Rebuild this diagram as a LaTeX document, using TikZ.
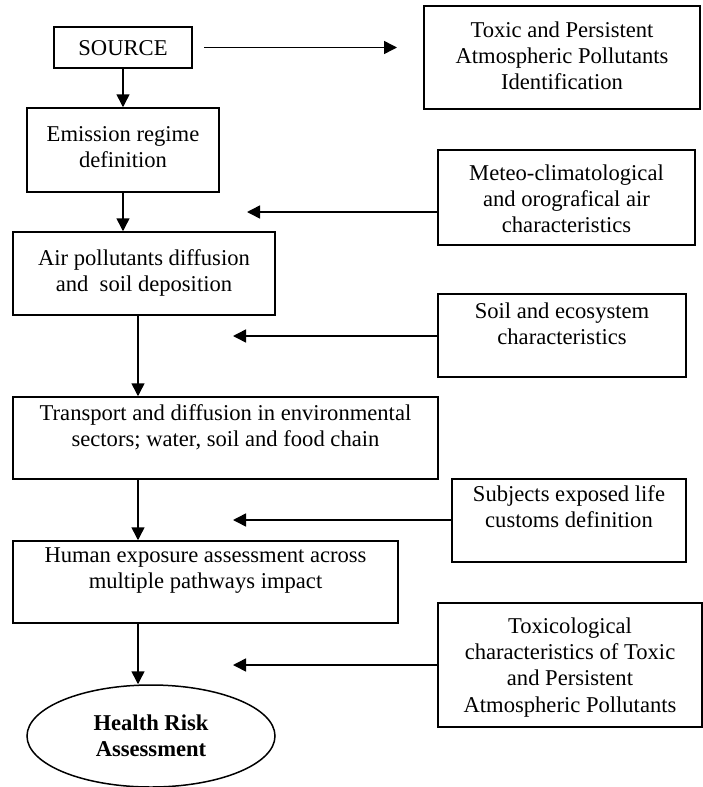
\documentclass[tikz,border=0pt]{standalone}
\usepackage{fontspec}
\setmainfont{Liberation Serif}
\usetikzlibrary{arrows.meta,shapes.geometric}
\begin{document}
\begin{tikzpicture}[x=1pt,y=-1pt,
  box/.style={draw,line width=1.5pt,inner sep=0pt},
  txt/.style={align=center,inner sep=0pt,font=\fontsize{22.6}{26.3}\selectfont},
  arr/.style={line width=1.5pt,-{Triangle[length=13pt,width=13pt]}}]
\useasboundingbox (0,0) rectangle (702,787);
% boxes
\node[box,minimum width=138pt,minimum height=41pt] (src) at (123,47.5) {};
\node[txt] at ([yshift=-1pt]src.center) {SOURCE};
\node[box,minimum width=276pt,minimum height=103pt] (toxic) at (562,57.5) {};
\node[txt,anchor=north] at ([yshift=-16pt]toxic.north) {Toxic and Persistent\\Atmospheric Pollutants\\Identification};
\node[box,minimum width=192pt,minimum height=84pt] (emis) at (123,150) {};
\node[txt,anchor=north] at ([yshift=-19pt]emis.north) {Emission regime\\definition};
\node[box,minimum width=257pt,minimum height=95pt] (meteo) at (566.5,197.5) {};
\node[txt,anchor=north] at ([yshift=-15pt]meteo.north) {Meteo-climatological\\and orografical air\\characteristics};
\node[box,minimum width=262pt,minimum height=83pt] (air) at (144,273.5) {};
\node[txt,anchor=north] at ([yshift=-18pt]air.north) {Air pollutants diffusion\\and\ \ soil deposition};
\node[box,minimum width=248pt,minimum height=83pt] (soil) at (562,335.5) {};
\node[txt,anchor=north] at ([yshift=-9pt]soil.north) {Soil and ecosystem\\characteristics};
\node[box,minimum width=425pt,minimum height=82pt] (trans) at (225.5,438) {};
\node[txt,anchor=north] at ([yshift=-8pt]trans.north) {Transport and diffusion in environmental\\sectors; water, soil and food chain};
\node[box,minimum width=234pt,minimum height=83pt] (subj) at (569,520.5) {};
\node[txt,anchor=north] at ([yshift=-7pt]subj.north) {Subjects exposed life\\customs definition};
\node[box,minimum width=385pt,minimum height=82pt] (human) at (205.5,582) {};
\node[txt,anchor=north] at ([yshift=-7pt]human.north) {Human exposure assessment across\\multiple pathways impact};
\node[box,minimum width=264pt,minimum height=124pt] (toxico) at (570,665) {};
\node[txt,anchor=north] at ([yshift=-15pt]toxico.north) {Toxicological\\characteristics of Toxic\\and Persistent\\Atmospheric Pollutants};
\node[draw,ellipse,line width=1.5pt,inner sep=0pt,minimum width=248pt,minimum height=102pt,txt,font=\fontsize{22.6}{26.3}\selectfont\bfseries] (hra) at (151,736) {Health Risk\\Assessment};
% free ends
\coordinate (c1s) at (204,47.5);
\coordinate (c1e) at (397,47.5);
\coordinate (m1) at (247,212);
\coordinate (s1) at (233,336);
\coordinate (u1) at (233,520);
\coordinate (t1) at (233,665);
% connectors
\draw[arr] (c1s) -- (c1e);
\draw[arr] (src.south) -- (emis.north);
\draw[arr] (emis.south) -- (emis.south |- air.north);
\draw[arr] (meteo.west |- m1) -- (m1);
\draw[arr] ([xshift=-6pt]air.south) -- ([xshift=-6pt]air.south |- trans.north);
\draw[arr] (soil.west |- s1) -- (s1);
\draw[arr] ([xshift=-6pt]air.south |- trans.south) -- ([xshift=-6pt]air.south |- human.north);
\draw[arr] (subj.west |- u1) -- (u1);
\draw[arr] ([xshift=-6pt]air.south |- human.south) -- ([xshift=-6pt]air.south |- hra.north);
\draw[arr] (toxico.west |- t1) -- (t1);
\end{tikzpicture}
\end{document}
